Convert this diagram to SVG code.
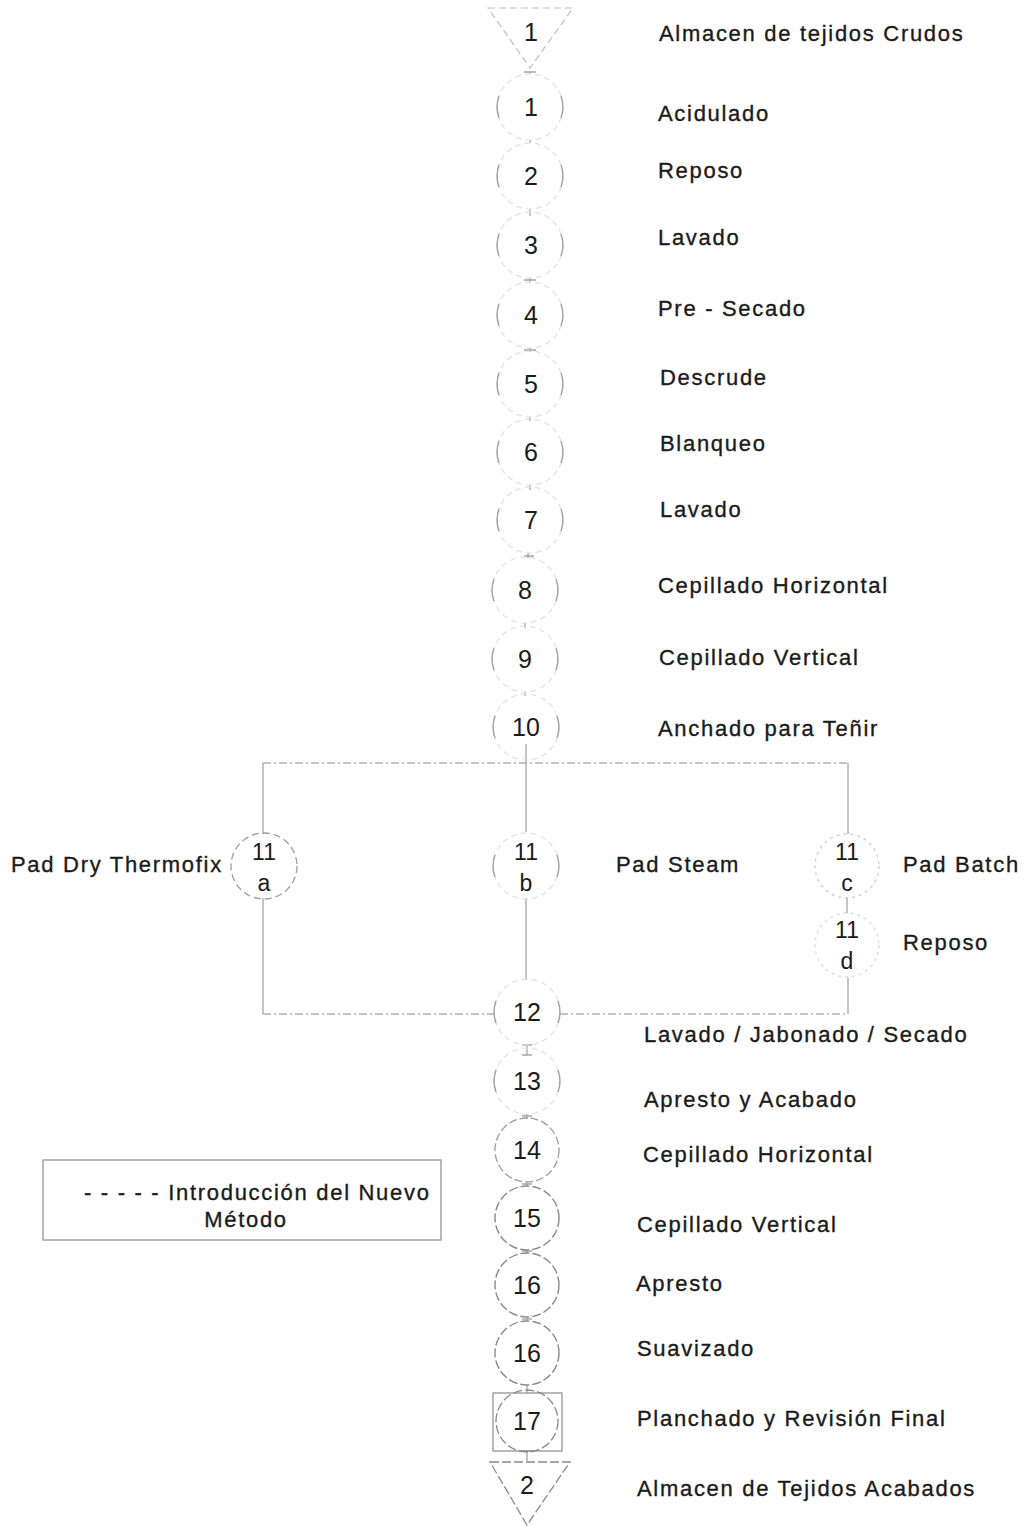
<svg xmlns="http://www.w3.org/2000/svg" width="1026" height="1526" viewBox="0 0 1026 1526">
  <style>
    .lbl { font-family: "Liberation Sans", Arial, sans-serif; font-size: 22px; fill: #1b1b1b; stroke: #1b1b1b; stroke-width: 0.35; letter-spacing: 1.7px; }
    .num { font-family: "Liberation Sans", Arial, sans-serif; font-size: 25px; fill: #1b1b1b; text-anchor: middle; }
    .sub { font-family: "Liberation Sans", Arial, sans-serif; font-size: 23px; fill: #1b1b1b; text-anchor: middle; }
    .faint { fill: none; stroke: #e2dfe2; stroke-width: 1.2; stroke-dasharray: 6 4; }
    .side { fill: none; stroke: #a79ea8; stroke-width: 1.4; }
    .dark { fill: none; stroke: #8a8a8a; stroke-width: 1.4; stroke-dasharray: 9 3; }
    .conn { fill: none; stroke: #a8a4a8; stroke-width: 1.3; }
    .connd { fill: none; stroke: #b4aeb4; stroke-width: 1.3; stroke-dasharray: 8 3 2 3; }
    .box { fill: none; stroke: #8c8c8c; stroke-width: 1.2; }
  </style>
  <defs>
    <!-- faded operation bubble: very light outline with darker side arcs -->
    <g id="bub">
      <circle r="33" class="faint"/>
      <path class="side" d="M-31,-11 A33,33 0 0 0 -31,11 M31,-11 A33,33 0 0 1 31,11"/>
    </g>
    <!-- clearly printed operation bubble -->
    <g id="bubd">
      <circle r="32" class="dark"/>
    </g>
  </defs>

  <rect width="1026" height="1526" fill="#ffffff"/>

  <!-- connectors -->
  <g id="connectors">
    <!-- short links on the main line -->
    <path class="conn" d="M530,72 V74 M524,72 H536 M530,140 V143 M530,209 V216 M530,278 V283 M524,280 H536 M530,348 V352 M524,350 H536 M530,417 V421 M530,485 V490 M528,553 V558 M524,556 H534 M525,623 V628 M525,692 V696 M526,744 V763"/>
    <!-- split into the three dyeing routes -->
    <path class="connd" d="M263,763 H848"/>
    <path class="conn" d="M263,763 V834 M848,763 V834 M526,763 V832"/>
    <path class="conn" d="M847,897 V913"/>
    <!-- routes joining again at 12 -->
    <path class="conn" d="M263,898 V1014 M526,898 V980 M848,978 V1014"/>
    <path class="connd" d="M263,1014 H494 M560,1014 H848"/>
    <!-- short links below 12 -->
    <path class="conn" d="M527,1045 V1055 M522,1045 H532 M522,1055 H532 M527,1114 V1119 M522,1116 H532 M527,1183 V1186 M522,1184 H532 M527,1250 V1253 M522,1251 H532 M527,1317 V1321 M522,1319 H532 M527,1385 V1393 M527,1451 V1461 M520,1451 H534"/>
  </g>

  <!-- nodes -->
  <g id="store1">
    <path d="M488,8 H573 L530,68 Z" fill="none" stroke="#c4bec4" stroke-width="1.2" stroke-dasharray="7 4"/>
    <text class="num" x="531" y="41">1</text>
  </g>
  <g id="op1"><use href="#bub" x="530" y="107"/><text class="num" x="531" y="116">1</text></g>
  <g id="op2"><use href="#bub" x="530" y="176"/><text class="num" x="531" y="185">2</text></g>
  <g id="op3"><use href="#bub" x="530" y="245"/><text class="num" x="531" y="254">3</text></g>
  <g id="op4"><use href="#bub" x="530" y="315"/><text class="num" x="531" y="324">4</text></g>
  <g id="op5"><use href="#bub" x="530" y="384"/><text class="num" x="531" y="393">5</text></g>
  <g id="op6"><use href="#bub" x="530" y="452"/><text class="num" x="531" y="461">6</text></g>
  <g id="op7"><use href="#bub" x="530" y="520"/><text class="num" x="531" y="529">7</text></g>
  <g id="op8"><use href="#bub" x="525" y="590"/><text class="num" x="525" y="599">8</text></g>
  <g id="op9"><use href="#bub" x="525" y="659"/><text class="num" x="525" y="668">9</text></g>
  <g id="op10"><use href="#bub" x="526" y="727"/><text class="num" x="526" y="736">10</text></g>

  <g id="op11a">
    <circle cx="264" cy="866" r="33" fill="none" stroke="#a598a8" stroke-width="1.3" stroke-dasharray="7 4"/>
    <text class="sub" x="264" y="860">11</text>
    <text class="sub" x="264" y="891">a</text>
  </g>
  <g id="op11b"><use href="#bub" x="526" y="866"/>
    <text class="sub" x="526" y="860">11</text>
    <text class="sub" x="526" y="891">b</text>
  </g>
  <g id="op11c">
    <circle cx="847" cy="866" r="32" fill="none" stroke="#d0cdd0" stroke-width="1.3" stroke-dasharray="3 4"/>
    <text class="sub" x="847" y="860">11</text>
    <text class="sub" x="847" y="891">c</text>
  </g>
  <g id="op11d">
    <circle cx="847" cy="945" r="32" fill="none" stroke="#dcd9dc" stroke-width="1.3" stroke-dasharray="3 4"/>
    <text class="sub" x="847" y="938">11</text>
    <text class="sub" x="847" y="969">d</text>
  </g>

  <g id="op12"><use href="#bub" x="527" y="1012"/><text class="num" x="527" y="1021" font-size="26">12</text></g>
  <g id="op13"><use href="#bub" x="527" y="1081"/><text class="num" x="527" y="1090">13</text></g>
  <g id="op14">
    <circle cx="527" cy="1150" r="32" fill="none" stroke="#9c9c9c" stroke-width="1.3" stroke-dasharray="8 3"/>
    <text class="num" x="527" y="1159">14</text>
  </g>
  <g id="op15"><use href="#bubd" x="527" y="1218"/><text class="num" x="527" y="1227">15</text></g>
  <g id="op16a"><use href="#bubd" x="527" y="1285"/><text class="num" x="527" y="1294">16</text></g>
  <g id="op16b"><use href="#bubd" x="527" y="1353"/><text class="num" x="527" y="1362">16</text></g>
  <g id="op17">
    <rect x="493" y="1393" width="69" height="58" class="box"/>
    <circle cx="527" cy="1421" r="31" fill="none" stroke="#8a8a8a" stroke-width="1.3" stroke-dasharray="9 3"/>
    <text class="num" x="527" y="1430">17</text>
  </g>
  <g id="store2">
    <path d="M490,1462 H570 L527,1525 Z" fill="none" stroke="#8a8a8a" stroke-width="1.3" stroke-dasharray="9 3"/>
    <text class="num" x="527" y="1494">2</text>
  </g>

  <!-- operation names -->
  <g id="labels">
    <text class="lbl" x="659" y="41">Almacen de tejidos Crudos</text>
    <text class="lbl" x="658" y="121">Acidulado</text>
    <text class="lbl" x="658" y="178">Reposo</text>
    <text class="lbl" x="658" y="245">Lavado</text>
    <text class="lbl" x="658" y="316">Pre - Secado</text>
    <text class="lbl" x="660" y="385">Descrude</text>
    <text class="lbl" x="660" y="451">Blanqueo</text>
    <text class="lbl" x="660" y="517">Lavado</text>
    <text class="lbl" x="658" y="593">Cepillado Horizontal</text>
    <text class="lbl" x="659" y="665">Cepillado Vertical</text>
    <text class="lbl" x="658" y="736">Anchado para Teñir</text>
    <text class="lbl" x="11" y="872">Pad Dry Thermofix</text>
    <text class="lbl" x="616" y="872">Pad Steam</text>
    <text class="lbl" x="903" y="872">Pad Batch</text>
    <text class="lbl" x="903" y="950">Reposo</text>
    <text class="lbl" x="644" y="1042">Lavado / Jabonado / Secado</text>
    <text class="lbl" x="644" y="1107">Apresto y Acabado</text>
    <text class="lbl" x="643" y="1162">Cepillado Horizontal</text>
    <text class="lbl" x="637" y="1232">Cepillado Vertical</text>
    <text class="lbl" x="636" y="1291">Apresto</text>
    <text class="lbl" x="637" y="1356">Suavizado</text>
    <text class="lbl" x="637" y="1426">Planchado y Revisión Final</text>
    <text class="lbl" x="637" y="1496">Almacen de Tejidos Acabados</text>
  </g>

  <!-- legend -->
  <g id="legend">
    <rect x="43" y="1160" width="398" height="80" class="box"/>
    <text class="lbl" x="84" y="1200" font-size="21" letter-spacing="0">- - - - - Introducción del Nuevo</text>
    <text class="lbl" x="246" y="1227" font-size="21" letter-spacing="0" text-anchor="middle">Método</text>
  </g>
</svg>
